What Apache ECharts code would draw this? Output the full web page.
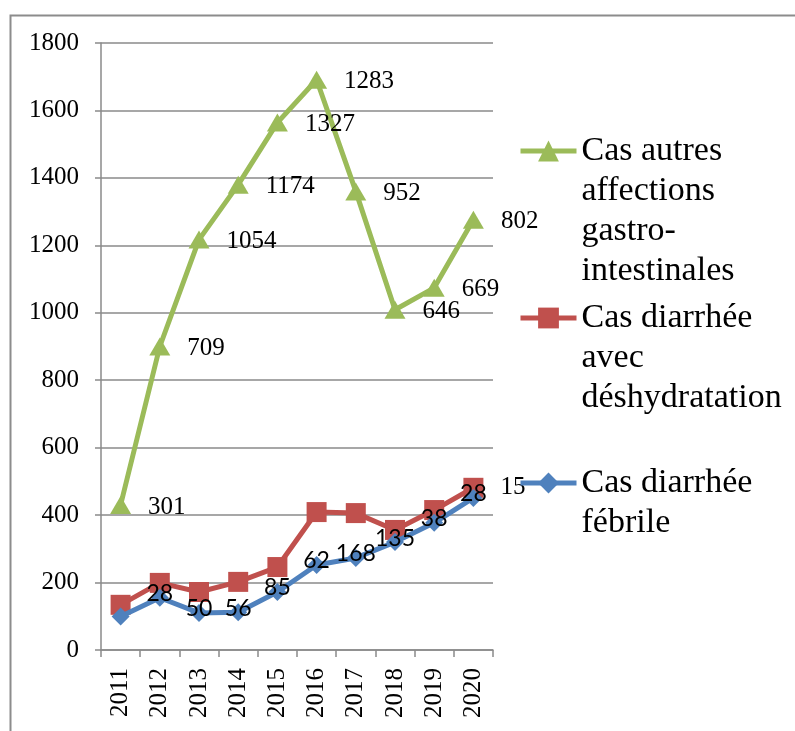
<!DOCTYPE html>
<html>
<head>
<meta charset="utf-8">
<script src="https://cdn.jsdelivr.net/npm/echarts@6/dist/echarts.min.js"></script>
<style>
  html, body { margin: 0; background: #fff; }
  #main { width: 795px; height: 731px; }
</style>
</head>
<body>
<div id="main"></div>
<script>
// années (axe des x)
const years = ['2011', '2012', '2013', '2014', '2015', '2016', '2017', '2018', '2019', '2020'];

// valeurs
const autres = [430, 900, 1217, 1380, 1564, 1691, 1360, 1009, 1074, 1276];
const deshydratation = [134, 199, 172, 202, 246, 409, 406, 356, 415, 481];
const febrile = [99, 155, 110, 112, 172, 252, 273, 320, 377, 451];

// étiquettes de données telles qu'elles apparaissent
const autresLabels = [301, 709, 1054, 1174, 1327, 1283, 952, 646, 669, 802];
const deshydratationLabels = [null, null, null, null, null, null, null, null, null, 15];
const febrileLabels = [null, 28, 50, 56, 85, 62, 168, 135, 38, 28];

// axe des y
const yMin = 0;
const yMax = 1800;
const yStep = 200;

const names = [
  'Cas autres affections gastro-intestinales',
  'Cas diarrhée avec déshydratation',
  'Cas diarrhée fébrile'
];
// texte de légende, une ligne par entrée
const legendLines = {
  [names[0]]: ['Cas autres', 'affections', 'gastro-', 'intestinales'],
  [names[1]]: ['Cas diarrhée', 'avec', 'déshydratation'],
  [names[2]]: ['Cas diarrhée', 'fébrile']
};

const SERIF = "'Liberation Serif', 'Times New Roman', serif";
const GREEN = '#9BBB59';
const RED = '#C0504D';
const BLUE = '#4F81BD';
const GRID = '#8a8a8a';

const labelFrom = (arr) => (p) => (arr[p.dataIndex] == null ? '' : String(arr[p.dataIndex]));

// une légende par série ; des lignes vides devant gardent l'icône sur la 1re ligne
const makeLegend = (name, top) => ({
  data: [name],
  left: 518,
  top: top,
  orient: 'vertical',
  padding: 0,
  itemWidth: 56,
  itemHeight: 26,
  lineStyle: { width: 5 },
  formatter: (n) => {
    const lines = legendLines[n];
    return '\n'.repeat(lines.length - 1) + lines.join('\n');
  },
  textStyle: {
    fontFamily: SERIF,
    fontSize: 34,
    lineHeight: 40,
    color: '#000'
  }
});

const myChart = echarts.init(document.getElementById('main'));

const option = {
  animation: false,
  backgroundColor: '#fff',
  graphic: [
    {
      type: 'rect',
      left: 8,
      top: 13,
      shape: { width: 820, height: 760 },
      style: { fill: 'none', stroke: '#8c8c8c', lineWidth: 2 },
      z: -1
    }
  ],
  grid: { left: 101, right: 302, top: 43, bottom: 81 },
  legend: [
    makeLegend(names[0], 11),
    makeLegend(names[1], 218),
    makeLegend(names[2], 423)
  ],
  xAxis: {
    type: 'category',
    data: years,
    boundaryGap: true,
    axisLine: { lineStyle: { color: GRID, width: 1.5 } },
    axisTick: { show: true, length: 7, interval: 0, lineStyle: { color: GRID, width: 1.5 } },
    axisLabel: {
      interval: 0,
      rotate: 90,
      margin: 18,
      fontFamily: SERIF,
      fontSize: 25,
      color: '#000'
    }
  },
  yAxis: {
    type: 'value',
    min: yMin,
    max: yMax,
    interval: yStep,
    axisLine: { show: true, lineStyle: { color: GRID, width: 1.5 } },
    axisTick: { show: true, length: 6, lineStyle: { color: GRID, width: 1.5 } },
    splitLine: { lineStyle: { color: GRID, width: 1.5 } },
    axisLabel: {
      margin: 22,
      fontFamily: SERIF,
      fontSize: 25,
      color: '#000',
      formatter: (v) => String(v)
    }
  },
  series: [
    {
      name: names[2],
      type: 'line',
      data: febrile,
      symbol: 'diamond',
      symbolSize: 18,
      lineStyle: { width: 5, color: BLUE },
      itemStyle: { color: BLUE },
      label: {
        show: true,
        position: 'inside',
        offset: [0, -4],
        fontFamily: 'Lato, sans-serif',
        fontSize: 23,
        color: '#000',
        formatter: labelFrom(febrileLabels)
      },
      // au-dessus pour que ses étiquettes passent devant les carrés rouges
      z: 5
    },
    {
      name: names[1],
      type: 'line',
      data: deshydratation,
      symbol: 'rect',
      symbolSize: 20,
      lineStyle: { width: 5, color: RED },
      itemStyle: { color: RED },
      label: {
        show: true,
        position: 'right',
        distance: 17,
        fontFamily: SERIF,
        fontSize: 25,
        color: '#000',
        formatter: labelFrom(deshydratationLabels)
      },
      z: 3
    },
    {
      name: names[0],
      type: 'line',
      data: autres,
      symbol: 'triangle',
      symbolSize: [21, 18],
      lineStyle: { width: 5, color: GREEN },
      itemStyle: { color: GREEN },
      label: {
        show: true,
        position: 'right',
        distance: 17,
        offset: [0, 2],
        fontFamily: SERIF,
        fontSize: 25,
        color: '#000',
        formatter: labelFrom(autresLabels)
      },
      z: 4
    }
  ]
};

myChart.setOption(option);
window.onresize = () => {
  myChart.resize();
};
</script>
</body>
</html>
